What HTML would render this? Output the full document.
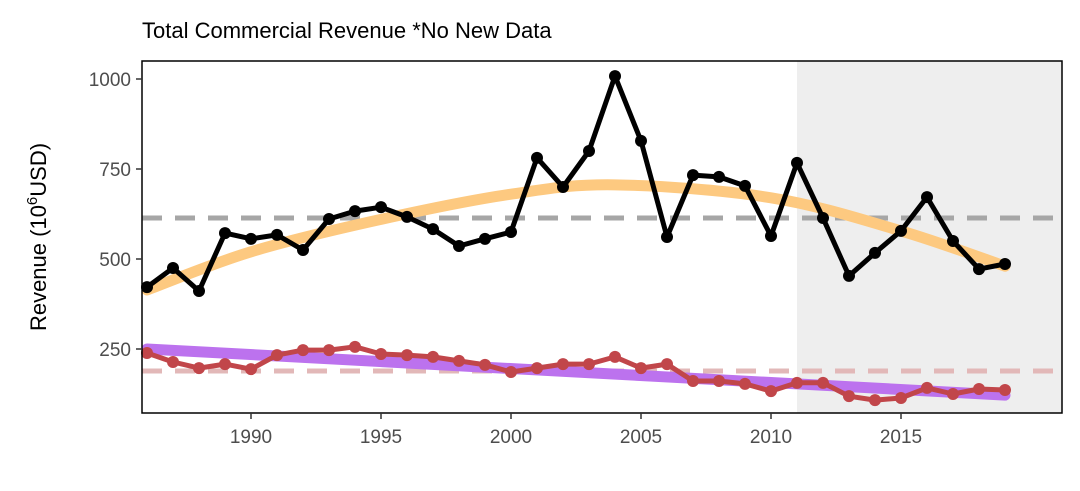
<!DOCTYPE html>
<html><head><meta charset="utf-8"><style>
body{margin:0;background:#fff;}
svg text{font-family:"Liberation Sans",Arial,sans-serif;}
</style></head><body>
<svg id="chart" width="1080" height="486"></svg>
<script>
const years=[1986,1987,1988,1989,1990,1991,1992,1993,1994,1995,1996,1997,1998,1999,2000,2001,2002,2003,2004,2005,2006,2007,2008,2009,2010,2011,2012,2013,2014,2015,2016,2017,2018,2019];
const totalRevenue=[422,475,411,572,556,567,525,611,633,644,617,583,536,556,575,781,700,800,1008,828,561,733,728,703,564,767,614,453,517,578,672,550,472,486];
const otherRevenue=[239,214,197,208,194,233,247,247,256,236,233,228,217,206,186,197,208,208,228,197,208,161,161,153,133,156,156,119,108,114,142,125,139,136];
const totalMean=614;
const otherMean=189;
const smoothYears=[1986,1990,1995,2000,2004,2010,2015,2019];
const smoothTotal=[414,520,610,680,706,670,578,480];
const trendYears=[1986,2019];
const trendOther=[250,122];
const xTicks=[1990,1995,2000,2005,2010,2015];
const yTicks=[250,500,750,1000];
const shadeStart=2011;

const NS="http://www.w3.org/2000/svg";
const svg=document.getElementById('chart');
const L=142,R=1062,T=61,B=413;
const xs=y=>147+(y-1986)*26;
const ys=v=>79+(1000-v)*0.36;
function el(tag,attrs,parent){const e=document.createElementNS(NS,tag);for(const k in attrs)e.setAttribute(k,attrs[k]);(parent||svg).appendChild(e);return e;}
function pathFrom(xa,ya){return xa.map((x,i)=>(i?'L':'M')+xs(x).toFixed(1)+','+ys(ya[i]).toFixed(1)).join(' ');}
function smoothPath(xa,ya){const p=xa.map((x,i)=>[xs(x),ys(ya[i])]);let d='M'+p[0][0]+','+p[0][1];
for(let i=0;i<p.length-1;i++){const p0=p[i-1]||p[i],p1=p[i],p2=p[i+1],p3=p[i+2]||p2;
d+=` C${p1[0]+(p2[0]-p0[0])/6},${p1[1]+(p2[1]-p0[1])/6} ${p2[0]-(p3[0]-p1[0])/6},${p2[1]-(p3[1]-p1[1])/6} ${p2[0]},${p2[1]}`;}return d;}

let e;
e=el('rect',{x:xs(shadeStart),y:T,width:R-xs(shadeStart),height:B-T,fill:'#eeeeee'});



e=el('line',{x1:L,x2:R,y1:ys(totalMean),y2:ys(totalMean),stroke:'#a6a6a6','stroke-width':5,'stroke-dasharray':'20,13'});


e=el('line',{x1:L,x2:R,y1:ys(otherMean),y2:ys(otherMean),stroke:'#e2b8b8','stroke-width':5,'stroke-dasharray':'20,13'});



e=el('path',{d:smoothPath(smoothYears,smoothTotal),fill:'none',stroke:'#fdc980','stroke-width':11,'stroke-linecap':'round'});


e=el('path',{d:pathFrom(trendYears,trendOther),fill:'none',stroke:'#bc72ee','stroke-width':11,'stroke-linecap':'round'});



function series(vals,color,name){
  const g=el('g',{});
  
  
  el('path',{d:pathFrom(years,vals),fill:'none',stroke:color,'stroke-width':5,'stroke-linejoin':'round'},g);
  years.forEach((y,i)=>{const c=el('circle',{cx:xs(y),cy:ys(vals[i]),r:6,fill:color},g);
    
    });
}
series(otherRevenue,'#c1464a','other-revenue');
series(totalRevenue,'#000000','total-revenue');

e=el('rect',{x:L,y:T,width:R-L,height:B-T,fill:'none',stroke:'#000','stroke-width':1.5});



xTicks.forEach(t=>{el('line',{x1:xs(t),x2:xs(t),y1:B,y2:B+6,stroke:'#333','stroke-width':1.5});
  const tx=el('text',{x:xs(t),y:B+30,'font-size':19,fill:'#4d4d4d','text-anchor':'middle'});tx.textContent=t;
  
  });
yTicks.forEach(t=>{el('line',{x1:L-6,x2:L,y1:ys(t),y2:ys(t),stroke:'#333','stroke-width':1.5});
  const tx=el('text',{x:L-11,y:ys(t)+7,'font-size':19,fill:'#4d4d4d','text-anchor':'end'});tx.textContent=t;
  
  });
</script>
<svg style="position:absolute;left:0;top:0" width="1080" height="486">
<text x="142" y="38" font-size="22" fill="#000" style="font-family:'Liberation Sans',sans-serif">Total Commercial Revenue *No New Data</text>
<text transform="translate(46,237) rotate(-90)" text-anchor="middle" font-size="22" fill="#000" style="font-family:'Liberation Sans',sans-serif">Revenue (10<tspan font-size="15" dy="-9">6</tspan><tspan dy="9">USD)</tspan></text>
</svg>
</body></html>
